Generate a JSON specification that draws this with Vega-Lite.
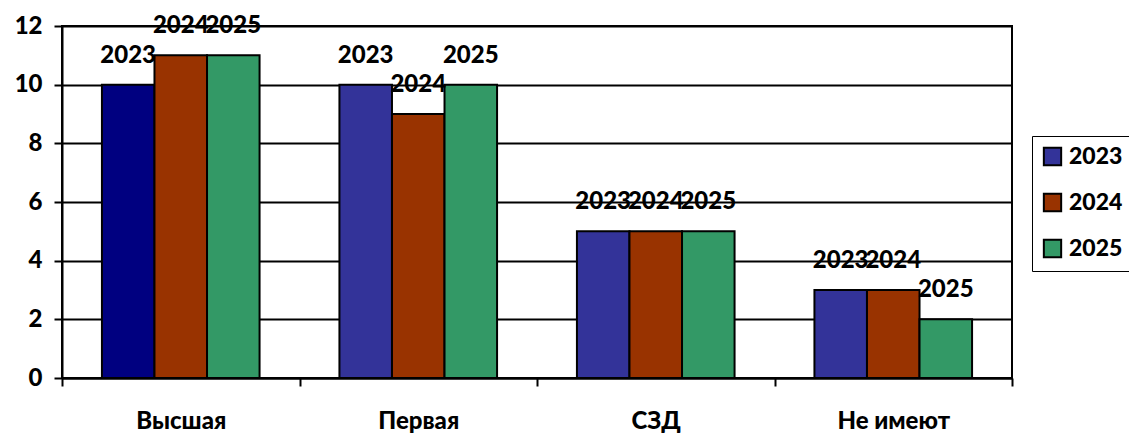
{
  "$schema": "https://vega.github.io/schema/vega-lite/v6.json",
  "autosize": "none",
  "width": 950,
  "height": 352,
  "padding": {"left": 62, "top": 26, "right": 117, "bottom": 59},
  "background": "white",
  "config": {
    "font": "Lato",
    "view": {"stroke": "black", "strokeWidth": 2},
    "axis": {"domainColor": "black", "domainWidth": 2, "tickColor": "black", "tickWidth": 2, "labelColor": "black", "labelFont": "Lato", "labelFontWeight": 900, "labelFontSize": 24}
  },
  "data": {
    "values": [
      {"cat": "Высшая", "year": "2023", "value": 10},
      {"cat": "Высшая", "year": "2024", "value": 11},
      {"cat": "Высшая", "year": "2025", "value": 11},
      {"cat": "Первая", "year": "2023", "value": 10},
      {"cat": "Первая", "year": "2024", "value": 9},
      {"cat": "Первая", "year": "2025", "value": 10},
      {"cat": "СЗД", "year": "2023", "value": 5},
      {"cat": "СЗД", "year": "2024", "value": 5},
      {"cat": "СЗД", "year": "2025", "value": 5},
      {"cat": "Не имеют", "year": "2023", "value": 3},
      {"cat": "Не имеют", "year": "2024", "value": 3},
      {"cat": "Не имеют", "year": "2025", "value": 2}
    ]
  },
  "encoding": {
    "x": {
      "field": "cat", "type": "nominal", "sort": null,
      "scale": {"paddingInner": 0, "paddingOuter": 0},
      "axis": {"title": null, "labelAngle": 0, "tickBand": "extent", "tickSize": 8, "labelPadding": 23, "grid": false}
    },
    "xOffset": {
      "field": "year", "type": "nominal",
      "scale": {"paddingInner": 0, "paddingOuter": 0.76}
    },
    "y": {
      "field": "value", "type": "quantitative",
      "scale": {"domain": [0, 12]},
      "axis": {"title": null, "values": [0, 2, 4, 6, 8, 10, 12], "tickSize": 8, "labelPadding": 12, "grid": true, "gridColor": "black", "gridWidth": 2, "gridOpacity": 1}
    }
  },
  "layer": [
    {
      "mark": {"type": "bar", "stroke": "black", "strokeWidth": 2},
      "encoding": {
        "color": {
          "condition": {"test": "datum.cat === 'Высшая' && datum.year === '2023'", "value": "#000080"},
          "field": "year", "type": "nominal",
          "scale": {"domain": ["2023", "2024", "2025"], "range": ["#333399", "#993300", "#339966"]},
          "legend": {
            "title": null, "orient": "none", "legendX": 970, "legendY": 110,
            "strokeColor": "black", "padding": 9,
            "symbolType": "square", "symbolSize": 300, "symbolStrokeColor": "black", "symbolStrokeWidth": 2,
            "labelFont": "Lato", "labelFontWeight": 900, "labelFontSize": 23, "labelColor": "black",
            "rowPadding": 19, "labelOffset": 5
          }
        }
      }
    },
    {
      "mark": {"type": "text", "font": "Lato", "fontWeight": 900, "fontSize": 24, "color": "black", "baseline": "alphabetic", "dy": -22},
      "encoding": {"text": {"field": "year"}}
    }
  ]
}
